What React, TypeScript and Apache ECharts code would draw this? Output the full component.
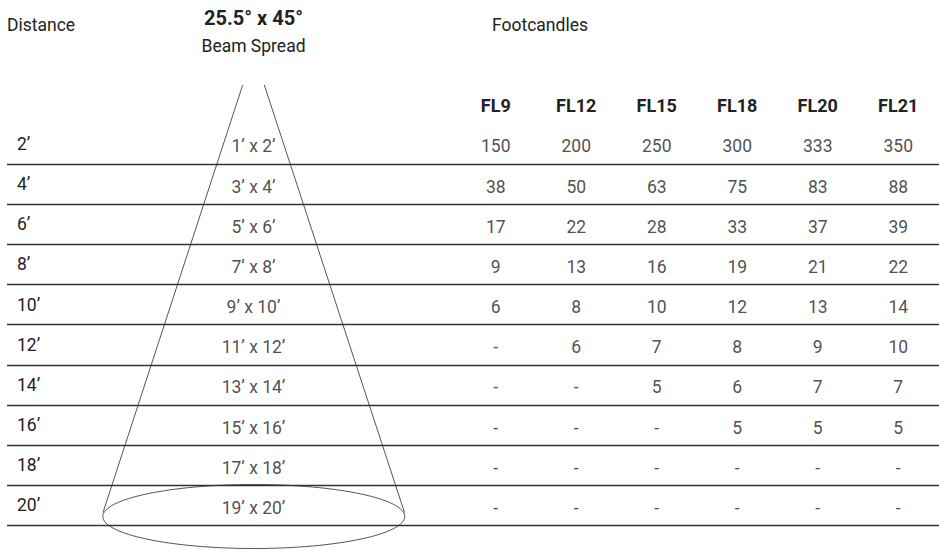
import React, { useEffect, useRef } from 'react';
import * as echarts from 'echarts';

const distances = ['2’', '4’', '6’', '8’', '10’', '12’', '14’', '16’', '18’', '20’'];
const beamSpreads = ['1’ x 2’', '3’ x 4’', '5’ x 6’', '7’ x 8’', '9’ x 10’', '11’ x 12’', '13’ x 14’', '15’ x 16’', '17’ x 18’', '19’ x 20’'];
const fixtures = ['FL9', 'FL12', 'FL15', 'FL18', 'FL20', 'FL21'];
const fl9 = [150, 38, 17, 9, 6, null, null, null, null, null];
const fl12 = [200, 50, 22, 13, 8, 6, null, null, null, null];
const fl15 = [250, 63, 28, 16, 10, 7, 5, null, null, null];
const fl18 = [300, 75, 33, 19, 12, 8, 6, 5, null, null];
const fl20 = [333, 83, 37, 21, 13, 9, 7, 5, null, null];
const fl21 = [350, 88, 39, 22, 14, 10, 7, 5, null, null];
const beamAngle = '25.5° x 45°';
const beamTitle = 'Beam Spread';
const distanceTitle = 'Distance';
const footcandleTitle = 'Footcandles';

const FONT = "Roboto, 'Open Sans', sans-serif";
const TEXT = '#222222';
const SIZE = 17.5;

export default function App() {
  const ref = useRef<HTMLDivElement>(null);
  useEffect(() => {
    if (!ref.current) return;
    const chart = echarts.init(ref.current, undefined, { renderer: 'svg' });
    const columns = [fl9, fl12, fl15, fl18, fl20, fl21];
    const cells: any[] = [];
    columns.forEach((col, c) => col.forEach((v, r) => cells.push([c, r, v])));
    const beamCells = beamSpreads.map((_, r) => [0, r]);

    const rowAxis = (gridIndex: number, extra: any = {}) => ({
      type: 'category',
      gridIndex,
      data: distances,
      inverse: true,
      axisLine: { show: false },
      axisTick: { show: false },
      axisLabel: { show: false },
      splitLine: { show: false },
      ...extra,
    });

    const option: any = {
      animation: false,
      backgroundColor: '#ffffff',
      textStyle: { fontFamily: FONT },
      grid: [
        { left: 7, right: 0, top: 123.9, height: 401.5 },
        { left: 455.5, width: 483, top: 123.9, height: 401.5 },
        { left: 203.5, width: 100, top: 123.9, height: 401.5 },
      ],
      xAxis: [
        { type: 'value', gridIndex: 0, min: 0, max: 1, show: false },
        {
          type: 'category',
          gridIndex: 1,
          data: fixtures,
          position: 'top',
          axisLine: { show: false },
          axisTick: { show: false },
          axisLabel: { fontFamily: FONT, fontSize: 18, fontWeight: 'bold', color: TEXT, margin: 9 },
        },
        { type: 'category', gridIndex: 2, data: [beamTitle], show: false },
      ],
      yAxis: [
        rowAxis(0, {
          axisLabel: {
            show: true,
            inside: true,
            margin: 10,
            fontFamily: FONT,
            fontSize: SIZE,
            color: TEXT,
            padding: [5, 0, 0, 0],
          },
          splitLine: { show: true, showMinLine: false, lineStyle: { color: '#333333', width: 1.3 } },
        }),
        rowAxis(1),
        rowAxis(2),
      ],
      series: [
        {
          type: 'scatter',
          xAxisIndex: 1,
          yAxisIndex: 1,
          symbolSize: 0,
          data: cells,
          label: {
            show: true,
            position: 'inside',
            offset: [0, 2.5],
            fontFamily: FONT,
            fontSize: SIZE,
            color: TEXT,
            formatter: (p: any) => (p.value[2] == null ? '-' : String(p.value[2])),
          },
        },
        {
          type: 'scatter',
          xAxisIndex: 2,
          yAxisIndex: 2,
          symbolSize: 0,
          data: beamCells,
          label: {
            show: true,
            position: 'inside',
            offset: [0, 2.5],
            fontFamily: FONT,
            fontSize: SIZE,
            color: TEXT,
            formatter: (p: any) => beamSpreads[p.dataIndex],
          },
        },
      ],
      graphic: [
        { type: 'text', x: 7, y: 25, style: { text: distanceTitle, font: `${SIZE}px ${FONT}`, fill: TEXT, align: 'left', verticalAlign: 'middle' } },
        { type: 'text', x: 492, y: 25, style: { text: footcandleTitle, font: `${SIZE}px ${FONT}`, fill: TEXT, align: 'left', verticalAlign: 'middle' } },
        { type: 'text', x: 253.5, y: 17.5, style: { text: beamAngle, font: `bold 20px ${FONT}`, fill: TEXT, align: 'center', verticalAlign: 'middle' } },
        { type: 'text', x: 253.5, y: 45.5, style: { text: beamTitle, font: `${SIZE}px ${FONT}`, fill: TEXT, align: 'center', verticalAlign: 'middle' } },
        { type: 'line', shape: { x1: 242.7, y1: 85, x2: 103, y2: 512.5 }, style: { stroke: '#555555', lineWidth: 1 } },
        { type: 'line', shape: { x1: 264.3, y1: 85, x2: 404.5, y2: 512.5 }, style: { stroke: '#555555', lineWidth: 1 } },
        { type: 'ellipse', shape: { cx: 253.8, cy: 516.5, rx: 151, ry: 32 }, style: { stroke: '#555555', lineWidth: 1, fill: 'none' } },
      ],
    };
    chart.setOption(option);
    return () => chart.dispose();
  }, []);
  return (
    <div
      ref={ref}
      style={{ position: 'fixed', left: 0, top: 0, width: 939, height: 550, background: '#fff' }}
    />
  );
}
